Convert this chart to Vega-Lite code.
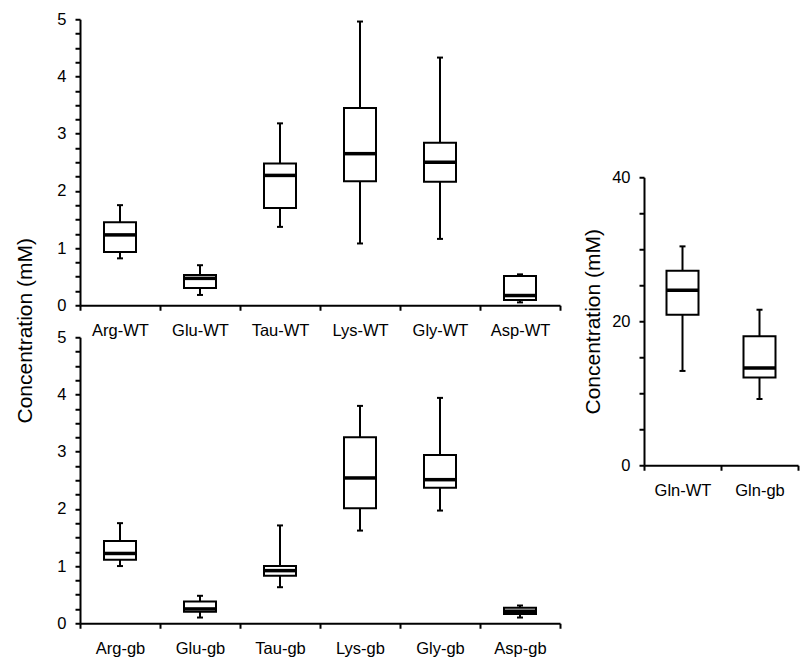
{
  "$schema": "https://vega.github.io/schema/vega-lite/v6.json",
  "padding": {"left": 14, "top": 11, "right": 5, "bottom": 5},
  "background": "white",
  "datasets": {
    "wt": [
      {"label": "Arg-WT", "lo": 0.82, "q1": 0.93, "med": 1.23, "q3": 1.45, "hi": 1.75},
      {"label": "Glu-WT", "lo": 0.18, "q1": 0.30, "med": 0.47, "q3": 0.53, "hi": 0.70},
      {"label": "Tau-WT", "lo": 1.37, "q1": 1.70, "med": 2.27, "q3": 2.48, "hi": 3.18},
      {"label": "Lys-WT", "lo": 1.08, "q1": 2.17, "med": 2.65, "q3": 3.45, "hi": 4.96},
      {"label": "Gly-WT", "lo": 1.16, "q1": 2.16, "med": 2.50, "q3": 2.84, "hi": 4.33},
      {"label": "Asp-WT", "lo": 0.05, "q1": 0.09, "med": 0.17, "q3": 0.51, "hi": 0.54}
    ],
    "gb": [
      {"label": "Arg-gb", "lo": 1.00, "q1": 1.11, "med": 1.22, "q3": 1.44, "hi": 1.75},
      {"label": "Glu-gb", "lo": 0.10, "q1": 0.20, "med": 0.25, "q3": 0.38, "hi": 0.48},
      {"label": "Tau-gb", "lo": 0.63, "q1": 0.83, "med": 0.92, "q3": 1.00, "hi": 1.71},
      {"label": "Lys-gb", "lo": 1.62, "q1": 2.01, "med": 2.54, "q3": 3.25, "hi": 3.80},
      {"label": "Gly-gb", "lo": 1.97, "q1": 2.37, "med": 2.51, "q3": 2.94, "hi": 3.94},
      {"label": "Asp-gb", "lo": 0.10, "q1": 0.16, "med": 0.21, "q3": 0.27, "hi": 0.31}
    ],
    "gln": [
      {"label": "Gln-WT", "lo": 13.1, "q1": 20.9, "med": 24.3, "q3": 27.0, "hi": 30.4},
      {"label": "Gln-gb", "lo": 9.2, "q1": 12.2, "med": 13.5, "q3": 17.9, "hi": 21.6}
    ]
  },
  "config": {
    "view": {"stroke": null},
    "font": "Liberation Sans",
    "axis": {
      "grid": false,
      "domainColor": "black",
      "domainWidth": 2,
      "tickColor": "black",
      "tickWidth": 2,
      "tickSize": 5,
      "labelColor": "black",
      "labelFont": "Liberation Sans",
      "labelFontSize": 16.5,
      "labelPadding": 9,
      "titleFont": "Liberation Sans",
      "titleFontSize": 21,
      "titleFontWeight": "normal",
      "titleColor": "black"
    },
    "axisX": {"labelAngle": 0, "tickBand": "extent", "title": null, "labelPadding": 12}
  },
  "center": true,
  "spacing": 21,
  "hconcat": [
    {
      "bounds": "flush",
      "spacing": 32,
      "vconcat": [
        {
          "data": {"name": "wt"},
          "width": 480,
          "height": 286,
          "encoding": {
            "x": {"field": "label", "type": "nominal", "sort": null, "scale": {"paddingInner": 0, "paddingOuter": 0}},
            "y": {"type": "quantitative", "scale": {"domain": [0, 5], "nice": false},
              "axis": {"title": "Concentration (mM)", "titleX": -45, "titleY": 311, "titleBaseline": "bottom",
                "values": [0,0.25,0.5,0.75,1,1.25,1.5,1.75,2,2.25,2.5,2.75,3,3.25,3.5,3.75,4,4.25,4.5,4.75,5],
                "labelExpr": "datum.value % 1 === 0 ? format(datum.value, 'd') : ''"}}
          },
          "layer": [
            {"mark": {"type": "rule", "color": "black", "strokeWidth": 2}, "encoding": {"y": {"field": "lo"}, "y2": {"field": "hi"}}},
            {"mark": {"type": "bar", "fill": "white", "stroke": "black", "strokeWidth": 2, "width": 32}, "encoding": {"y": {"field": "q1"}, "y2": {"field": "q3"}}},
            {"mark": {"type": "tick", "color": "black", "opacity": 1, "thickness": 3.5, "size": 32}, "encoding": {"y": {"field": "med"}}},
            {"mark": {"type": "tick", "color": "black", "opacity": 1, "thickness": 2, "size": 6}, "encoding": {"y": {"field": "hi"}}},
            {"mark": {"type": "tick", "color": "black", "opacity": 1, "thickness": 2, "size": 6}, "encoding": {"y": {"field": "lo"}}}
          ]
        },
        {
          "data": {"name": "gb"},
          "width": 480,
          "height": 286,
          "encoding": {
            "x": {"field": "label", "type": "nominal", "sort": null, "scale": {"paddingInner": 0, "paddingOuter": 0}},
            "y": {"type": "quantitative", "scale": {"domain": [0, 5], "nice": false},
              "axis": {"title": null,
                "values": [0,0.25,0.5,0.75,1,1.25,1.5,1.75,2,2.25,2.5,2.75,3,3.25,3.5,3.75,4,4.25,4.5,4.75,5],
                "labelExpr": "datum.value % 1 === 0 ? format(datum.value, 'd') : ''"}}
          },
          "layer": [
            {"mark": {"type": "rule", "color": "black", "strokeWidth": 2}, "encoding": {"y": {"field": "lo"}, "y2": {"field": "hi"}}},
            {"mark": {"type": "bar", "fill": "white", "stroke": "black", "strokeWidth": 2, "width": 32}, "encoding": {"y": {"field": "q1"}, "y2": {"field": "q3"}}},
            {"mark": {"type": "tick", "color": "black", "opacity": 1, "thickness": 3.5, "size": 32}, "encoding": {"y": {"field": "med"}}},
            {"mark": {"type": "tick", "color": "black", "opacity": 1, "thickness": 2, "size": 6}, "encoding": {"y": {"field": "hi"}}},
            {"mark": {"type": "tick", "color": "black", "opacity": 1, "thickness": 2, "size": 6}, "encoding": {"y": {"field": "lo"}}}
          ]
        }
      ]
    },
    {
      "data": {"name": "gln"},
      "width": 154,
      "height": 288,
      "encoding": {
        "x": {"field": "label", "type": "nominal", "sort": null, "scale": {"paddingInner": 0, "paddingOuter": 0}},
        "y": {"type": "quantitative", "scale": {"domain": [0, 40], "nice": false},
          "axis": {"title": "Concentration (mM)", "titlePadding": 8,
            "values": [0,5,10,15,20,25,30,35,40],
            "labelExpr": "datum.value % 20 === 0 ? format(datum.value, 'd') : ''"}}
      },
      "layer": [
        {"mark": {"type": "rule", "color": "black", "strokeWidth": 2}, "encoding": {"y": {"field": "lo"}, "y2": {"field": "hi"}}},
        {"mark": {"type": "bar", "fill": "white", "stroke": "black", "strokeWidth": 2, "width": 32}, "encoding": {"y": {"field": "q1"}, "y2": {"field": "q3"}}},
        {"mark": {"type": "tick", "color": "black", "opacity": 1, "thickness": 3.5, "size": 32}, "encoding": {"y": {"field": "med"}}},
        {"mark": {"type": "tick", "color": "black", "opacity": 1, "thickness": 2, "size": 6}, "encoding": {"y": {"field": "hi"}}},
        {"mark": {"type": "tick", "color": "black", "opacity": 1, "thickness": 2, "size": 6}, "encoding": {"y": {"field": "lo"}}}
      ]
    }
  ]
}
